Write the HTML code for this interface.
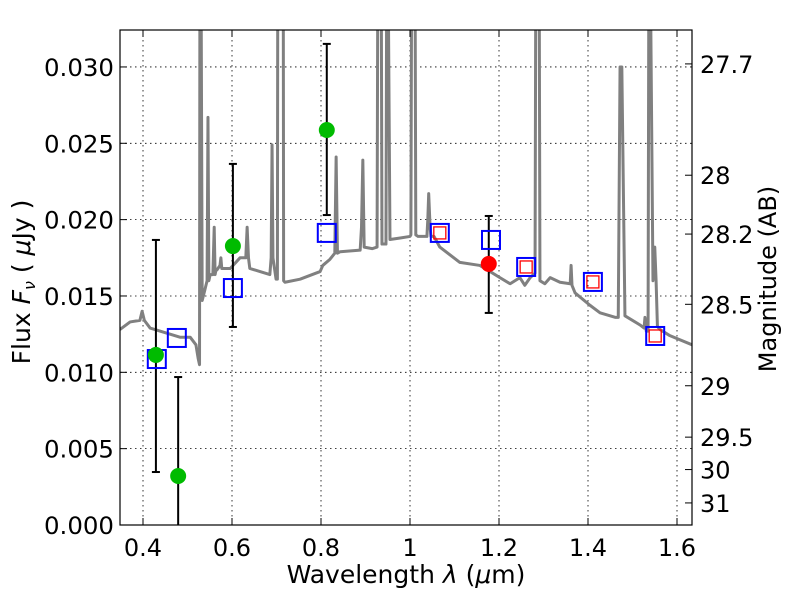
<!DOCTYPE html>
<html><head><meta charset="utf-8"><style>
html,body{margin:0;padding:0;background:#fff;}
svg{display:block;font-family:"DejaVu Sans","Liberation Sans",sans-serif;}
</style></head><body>
<svg id="chart" width="800" height="600" xmlns="http://www.w3.org/2000/svg"></svg>
<script>
const specLam = [0.348,0.371,0.393,0.398,0.403,0.416,0.449,0.483,0.506,0.519,0.524,0.527,0.528,0.530,0.533,0.539,0.544,0.546,0.548,0.551,0.557,0.560,0.562,0.564,0.566,0.573,0.575,0.577,0.596,0.618,0.631,0.634,0.637,0.640,0.663,0.685,0.688,0.690,0.692,0.699,0.702,0.703,0.715,0.716,0.719,0.753,0.798,0.804,0.820,0.831,0.834,0.837,0.843,0.888,0.891,0.894,0.897,0.915,0.926,0.928,0.935,0.937,0.946,0.948,0.950,0.955,0.978,1.000,1.002,1.004,1.011,1.013,1.018,1.038,1.040,1.042,1.045,1.047,1.054,1.067,1.112,1.157,1.180,1.202,1.225,1.247,1.258,1.270,1.281,1.283,1.290,1.292,1.303,1.315,1.337,1.360,1.362,1.364,1.371,1.404,1.427,1.461,1.468,1.472,1.476,1.483,1.517,1.526,1.528,1.531,1.535,1.537,1.539,1.546,1.550,1.553,1.556,1.562,1.584,1.634];
const specFlux = [0.0128,0.0133,0.0134,0.0140,0.0134,0.0129,0.0126,0.0123,0.0123,0.0118,0.0109,0.0105,0.040,0.040,0.0147,0.0154,0.0160,0.0267,0.0160,0.0164,0.0164,0.0195,0.0164,0.0167,0.0167,0.0170,0.0175,0.0168,0.0168,0.0175,0.0175,0.0195,0.0175,0.0168,0.0166,0.0164,0.0175,0.0249,0.0175,0.0161,0.0161,0.040,0.040,0.0160,0.0159,0.0161,0.0166,0.0170,0.0174,0.0178,0.0241,0.0178,0.0179,0.0180,0.0195,0.0239,0.0182,0.0181,0.0182,0.040,0.040,0.0184,0.0184,0.040,0.040,0.0187,0.0188,0.0189,0.0190,0.040,0.040,0.0190,0.0189,0.0189,0.0200,0.0217,0.0196,0.0189,0.0189,0.0182,0.0172,0.0170,0.0166,0.0162,0.0158,0.0162,0.0157,0.0162,0.0165,0.040,0.040,0.0160,0.0158,0.0162,0.0159,0.0158,0.0170,0.0157,0.0152,0.0144,0.0139,0.0136,0.0136,0.0300,0.0300,0.0137,0.0131,0.0129,0.0136,0.0127,0.0127,0.040,0.040,0.0160,0.0182,0.0160,0.0130,0.0128,0.0124,0.0118];
const photLam = [0.429,0.479,0.602,0.813];
const photFlux = [0.01114,0.00321,0.01827,0.02587];
const photLo = [0.00347,-0.002,0.01297,0.0203];
const photHi = [0.01867,0.00969,0.02365,0.03151];
const redLam = [1.177];
const redFlux = [0.0171];
const redLo = [0.01389];
const redHi = [0.02024];
const modelLam = [0.431,0.476,0.602,0.813,1.067,1.182,1.261,1.411,1.551];
const modelFlux = [0.01087,0.01225,0.01552,0.01913,0.01913,0.01867,0.0169,0.01592,0.01238];
const redModelLam = [1.067,1.261,1.411,1.551];
const redModelFlux = [0.01913,0.0169,0.01592,0.01238];
const xTicks = [0.4,0.6,0.8,1.0,1.2,1.4,1.6];
const xTickLabels = ["0.4","0.6","0.8","1","1.2","1.4","1.6"];
const yTicks = [0,0.005,0.01,0.015,0.02,0.025,0.03];
const yTickLabels = ["0.000","0.005","0.010","0.015","0.020","0.025","0.030"];
const magTicks = [27.7,28,28.2,28.5,29,29.5,30,31];
const magLabels = ["27.7","28","28.2","28.5","29","29.5","30","31"];

const L=120,R=692,T=30,B=525;
const xMin=0.3483,xMax=1.6337,yMin=0,yMax=0.03242;
const X=v=>L+(v-xMin)/(xMax-xMin)*(R-L);
const Y=v=>B-(v-yMin)/(yMax-yMin)*(B-T);
const NS="http://www.w3.org/2000/svg";
const svg=document.getElementById('chart');
function mk(tag,attrs,parent){const e=document.createElementNS(NS,tag);for(const k in attrs)e.setAttribute(k,attrs[k]);(parent||svg).appendChild(e);return e;}

const defs=mk('defs',{});
const cp=mk('clipPath',{id:'clip'},defs);
mk('rect',{x:L,y:T,width:R-L,height:B-T},cp);

const grid=mk('g',{});


xTicks.forEach(v=>{mk('line',{x1:X(v),x2:X(v),y1:T,y2:B,stroke:'#000','stroke-width':0.8,'stroke-dasharray':'1.5,3.5'},grid);});
yTicks.forEach(v=>{mk('line',{x1:L,x2:R,y1:Y(v),y2:Y(v),stroke:'#000','stroke-width':0.8,'stroke-dasharray':'1.5,3.5'},grid);});

const plot=mk('g',{'clip-path':'url(#clip)'});
const spec=mk('polyline',{points:specLam.map((l,i)=>X(l)+','+Y(specFlux[i])).join(' '),fill:'none',stroke:'#808080','stroke-width':3,'stroke-linejoin':'round'},plot);



function errbar(x,lo,hi,name){
  const g=mk('g',{},plot);
  
  
  mk('line',{x1:X(x),x2:X(x),y1:Y(lo),y2:Y(hi),stroke:'#000','stroke-width':2},g);
  mk('line',{x1:X(x)-4,x2:X(x)+4,y1:Y(lo),y2:Y(lo),stroke:'#000','stroke-width':2},g);
  mk('line',{x1:X(x)-4,x2:X(x)+4,y1:Y(hi),y2:Y(hi),stroke:'#000','stroke-width':2},g);
}
photLam.forEach((l,i)=>errbar(l,photLo[i],photHi[i],'errorbar-green-'+i));
redLam.forEach((l,i)=>errbar(l,redLo[i],redHi[i],'errorbar-red-'+i));

modelLam.forEach((l,i)=>{
  const r=mk('rect',{x:X(l)-9,y:Y(modelFlux[i])-9,width:18,height:18,fill:'none',stroke:'#0000ff','stroke-width':2},plot);
  
  
});
redModelLam.forEach((l,i)=>{
  const r=mk('rect',{x:X(l)-6,y:Y(redModelFlux[i])-6,width:12,height:12,fill:'none',stroke:'#ff0000','stroke-width':1.3},plot);
  
  
});
photLam.forEach((l,i)=>{
  const c=mk('circle',{cx:X(l),cy:Y(photFlux[i]),r:8,fill:'#00bb00'},plot);
  
  
});
redLam.forEach((l,i)=>{
  const c=mk('circle',{cx:X(l),cy:Y(redFlux[i]),r:8,fill:'#ff0000'},plot);
  
  
});

const ax=mk('g',{});


mk('rect',{x:L,y:T,width:R-L,height:B-T,fill:'none',stroke:'#000','stroke-width':1.2},ax);
xTicks.forEach((v,i)=>{
  mk('line',{x1:X(v),x2:X(v),y1:B,y2:B-7,stroke:'#000'},ax);
  mk('line',{x1:X(v),x2:X(v),y1:T,y2:T+7,stroke:'#000'},ax);
  const t=mk('text',{x:X(v),y:B+31,'text-anchor':'middle','font-size':24},ax);
  t.textContent=xTickLabels[i];
  
  
});
yTicks.forEach((v,i)=>{
  mk('line',{x1:L,x2:L+7,y1:Y(v),y2:Y(v),stroke:'#000'},ax);
  const t=mk('text',{x:L-6,y:Y(v)+9,'text-anchor':'end','font-size':24,textLength:70,lengthAdjust:'spacingAndGlyphs'},ax);
  t.textContent=yTickLabels[i];
  
  
});
magTicks.forEach((m,i)=>{
  const y=Y(Math.pow(10,(23.9-m)/2.5));
  mk('line',{x1:R,x2:R-7,y1:y,y2:y,stroke:'#000'},ax);
  const t=mk('text',{x:R+8,y:y+9,'font-size':24},ax);
  t.textContent=magLabels[i];
  
  
});
const xl=mk('text',{x:406,y:583,'text-anchor':'middle','font-size':25});


xl.innerHTML='Wavelength  <tspan font-style="italic">λ</tspan> (<tspan font-style="italic">μ</tspan>m)';
const yl=mk('text',{x:30,y:282,'text-anchor':'middle','font-size':25,transform:'rotate(-90 30 282)'});


yl.innerHTML='Flux  <tspan font-style="italic">F</tspan><tspan font-style="italic" font-size="16" dy="5">ν</tspan><tspan dy="-5">  ( </tspan><tspan font-style="italic">μ</tspan>Jy )';
const yr=mk('text',{x:776,y:279,'text-anchor':'middle','font-size':24,transform:'rotate(-90 776 279)'});


yr.textContent='Magnitude (AB)';
</script>
</body></html>
